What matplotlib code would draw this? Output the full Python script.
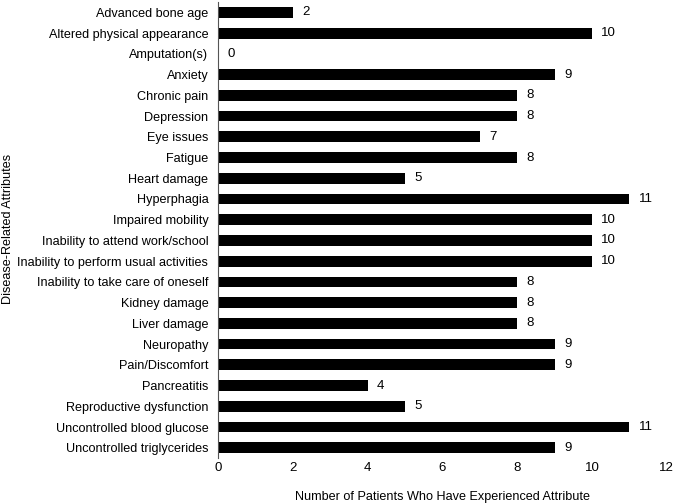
import matplotlib
matplotlib.use("Agg")
import matplotlib.pyplot as plt
import numpy as np

plt.rcParams['font.family'] = ['Liberation Sans', 'DejaVu Sans']

attributes = [
    "Advanced bone age", "Altered physical appearance", "Amputation(s)", "Anxiety",
    "Chronic pain", "Depression", "Eye issues", "Fatigue", "Heart damage",
    "Hyperphagia", "Impaired mobility", "Inability to attend work/school",
    "Inability to perform usual activities", "Inability to take care of oneself",
    "Kidney damage", "Liver damage", "Neuropathy", "Pain/Discomfort",
    "Pancreatitis", "Reproductive dysfunction", "Uncontrolled blood glucose",
    "Uncontrolled triglycerides",
]
patients = [2, 10, 0, 9, 8, 8, 7, 8, 5, 11, 10, 10, 10, 8, 8, 8, 9, 9, 4, 5, 11, 9]
xticks = [0, 2, 4, 6, 8, 10, 12]

fig = plt.figure(figsize=(6.77, 5.04), dpi=100)
ax = fig.add_axes([0.322, 0.091, 0.663, 0.905])

y = np.arange(len(attributes))
ax.barh(y, patients, height=0.52, color="black")
for yi, v in zip(y, patients):
    ax.text(v + 0.25, yi, str(v), va="center", ha="left", fontsize=9.5)

ax.set_ylim(len(attributes) - 0.5, -0.5)
ax.set_xlim(0, 12)
ax.set_xticks(xticks)
ax.set_yticks(y)
ax.set_yticklabels(attributes, fontsize=9.1)
ax.tick_params(axis="x", length=0, labelsize=9.5, pad=3)
ax.tick_params(axis="y", length=0, pad=7)
for s in ["top", "right", "bottom"]:
    ax.spines[s].set_visible(False)
ax.spines["left"].set_color("#555555")

ax.set_xlabel("Number of Patients Who Have Experienced Attribute", fontsize=9.1, labelpad=12)
fig.text(0.012, 0.545, "Disease-Related Attributes", rotation=90, va="center", ha="center", fontsize=9.1)

fig.savefig("out.png", dpi=100)
